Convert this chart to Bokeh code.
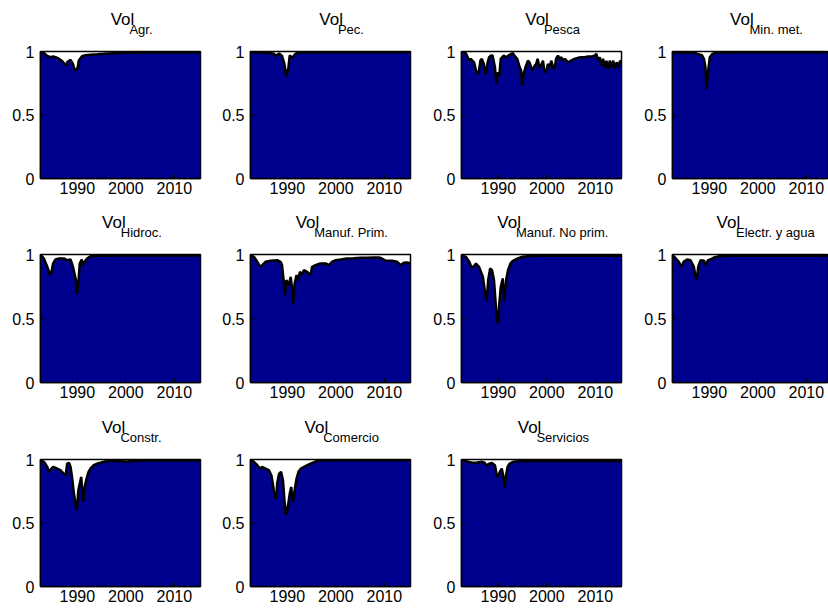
from bokeh.plotting import figure
from bokeh.layouts import column, row
from bokeh.models import FixedTicker, NumeralTickFormatter, Range1d
from bokeh.core.properties import value
from bokeh.embed import file_html
from bokeh.resources import INLINE

# ---- series (share of volume, 0..1), time in years ----
agr_t = [1982.4, 1983.2, 1983.8, 1984.4, 1985.0, 1985.5, 1986.1, 1986.5, 1987.0, 1987.6, 1987.9,
         1988.6, 1989.1, 1989.4, 1989.8, 1990.1, 1990.3, 1991.0, 1991.7, 1992.7, 1994.1, 1996.2,
         2000.2, 2007.5, 2015.4]
agr_v = [1.00, 0.985, 0.965, 0.955, 0.96, 0.955, 0.945, 0.935, 0.92, 0.89, 0.915,
         0.935, 0.90, 0.86, 0.85, 0.88, 0.93, 0.965, 0.97, 0.975, 0.978, 0.985,
         0.99, 0.992, 0.992]

pec_t = [1982.4, 1984.3, 1985.7, 1987.2, 1987.6, 1988.3, 1988.9, 1989.4, 1989.8, 1990.2, 1990.5,
         1991.0, 1991.5, 1992.0, 1996.6, 2015.4]
pec_v = [0.995, 0.99, 0.99, 0.985, 0.965, 0.985, 0.965, 0.90, 0.80, 0.87, 0.97,
         0.95, 0.975, 0.99, 0.995, 0.995]

pesca_t = [1982.4, 1983.3, 1984.0, 1984.3, 1985.0, 1985.4, 1985.9, 1986.3, 1986.6, 1987.0, 1987.4,
           1987.8, 1988.1, 1988.5, 1988.8, 1989.3, 1989.6, 1989.9, 1990.2, 1990.5, 1991.1, 1991.6,
           1992.1, 1992.6, 1993.0, 1993.3, 1993.9, 1994.3, 1994.7, 1994.9, 1995.2, 1995.7, 1996.1,
           1996.4, 1996.8, 1997.1, 1997.5, 1997.8, 1998.1, 1998.5, 1998.8, 1999.2, 1999.5, 1999.9,
           2000.2, 2000.6, 2000.9, 2001.3, 2001.6, 2001.9, 2002.3, 2002.6, 2003.0, 2003.3, 2003.7,
           2004.4, 2005.0, 2005.7, 2006.4, 2007.1, 2007.8, 2008.5, 2009.2, 2009.9, 2010.2, 2010.6,
           2010.9, 2011.3, 2011.6, 2012.0, 2012.3, 2012.6, 2013.0, 2013.3, 2013.7, 2014.0, 2014.4,
           2014.8, 2015.1, 2015.4]
pesca_v = [1.0, 0.987, 0.928, 0.942, 0.915, 0.849, 0.822, 0.928, 0.942, 0.902, 0.822,
           0.915, 0.955, 0.968, 0.968, 0.875, 0.743, 0.836, 0.809, 0.942, 0.968, 0.955,
           0.968, 0.981, 0.987, 0.968, 0.942, 0.889, 0.849, 0.729, 0.822, 0.889, 0.928,
           0.915, 0.875, 0.849, 0.889, 0.902, 0.942, 0.875, 0.889, 0.928, 0.849, 0.836,
           0.902, 0.875, 0.928, 0.875, 0.862, 0.942, 0.968, 0.942, 0.955, 0.928, 0.942,
           0.915, 0.928, 0.942, 0.950, 0.955, 0.955, 0.960, 0.960, 0.968, 0.981, 0.928,
           0.955, 0.889, 0.942, 0.875, 0.928, 0.862, 0.928, 0.875, 0.928, 0.862, 0.915,
           0.875, 0.928, 0.915]

minmet_t = [1982.4, 1985.0, 1987.1, 1987.5, 1988.5, 1988.9, 1989.2, 1989.4, 1989.7, 1990.1,
            1990.6, 1991.2, 1996.6, 2015.4]
minmet_v = [0.995, 0.99, 0.99, 0.98, 0.97, 0.94, 0.875, 0.70, 0.83, 0.955,
            0.98, 0.99, 0.995, 0.995]

hidroc_t = [1982.4, 1983.1, 1983.8, 1984.4, 1984.6, 1985.0, 1985.5, 1986.2, 1987.2, 1987.9, 1988.6,
            1989.1, 1989.7, 1989.9, 1990.2, 1990.5, 1990.9, 1991.2, 1991.5, 1992.0, 1992.7, 1994.1,
            2000.2, 2015.4]
hidroc_v = [1.0, 0.969, 0.904, 0.839, 0.852, 0.930, 0.961, 0.969, 0.969, 0.956, 0.961,
            0.904, 0.80, 0.691, 0.774, 0.930, 0.961, 0.917, 0.943, 0.969, 0.987, 0.990,
            0.992, 0.992]

mprim_t = [1982.4, 1983.1, 1983.8, 1984.4, 1984.8, 1985.5, 1986.5, 1987.9, 1988.6, 1988.9, 1989.3,
           1989.5, 1989.8, 1990.3, 1990.7, 1991.0, 1991.2, 1991.5, 1991.9, 1992.2, 1992.6, 1993.1,
           1993.4, 1994.1, 1994.8, 1995.1, 1995.8, 1996.8, 1997.9, 1998.6, 1999.2, 2000.0, 2001.0,
           2002.3, 2003.7, 2005.1, 2006.5, 2007.9, 2008.9, 2009.5, 2010.3, 2011.6, 2012.6, 2013.4,
           2014.0, 2014.7, 2015.4]
mprim_v = [0.995, 0.982, 0.943, 0.904, 0.917, 0.943, 0.951, 0.956, 0.943, 0.917, 0.774,
           0.683, 0.80, 0.761, 0.826, 0.722, 0.618, 0.774, 0.839, 0.80, 0.865, 0.839,
           0.878, 0.865, 0.839, 0.904, 0.917, 0.930, 0.930, 0.917, 0.943, 0.956, 0.961,
           0.969, 0.971, 0.974, 0.974, 0.977, 0.977, 0.969, 0.951, 0.951, 0.943, 0.917,
           0.935, 0.938, 0.930]

mnoprim_t = [1982.4, 1983.3, 1984.0, 1984.4, 1984.9, 1985.4, 1986.0, 1986.8, 1987.3, 1987.6, 1987.9,
             1988.3, 1988.7, 1989.1, 1989.6, 1989.9, 1990.2, 1990.5, 1990.9, 1991.2, 1991.6, 1992.0,
             1992.5, 1993.0, 1994.0, 1995.0, 1996.1, 1998.1, 2015.4]
mnoprim_v = [0.995, 0.982, 0.943, 0.904, 0.904, 0.930, 0.904, 0.826, 0.696, 0.631, 0.80,
             0.891, 0.878, 0.80, 0.54, 0.462, 0.618, 0.748, 0.813, 0.631, 0.80, 0.878,
             0.930, 0.951, 0.969, 0.982, 0.987, 0.990, 0.990]

elec_t = [1982.4, 1983.1, 1983.7, 1984.2, 1984.7, 1985.4, 1986.1, 1986.8, 1987.1, 1987.4, 1987.7,
          1988.2, 1988.9, 1989.3, 1989.7, 1990.2, 1991.0, 1992.0, 1993.6, 2015.4]
elec_v = [0.995, 0.969, 0.943, 0.904, 0.943, 0.961, 0.956, 0.904, 0.839, 0.80, 0.904,
          0.956, 0.951, 0.917, 0.956, 0.961, 0.977, 0.987, 0.990, 0.990]

constr_t = [1982.4, 1983.1, 1983.8, 1984.1, 1984.4, 1985.0, 1985.8, 1986.5, 1987.2, 1987.6, 1987.9,
            1988.3, 1988.6, 1988.9, 1989.3, 1989.7, 1989.9, 1990.2, 1990.5, 1990.8, 1991.0, 1991.2,
            1991.5, 1991.9, 1992.3, 1992.7, 1993.4, 1994.1, 1994.8, 1995.5, 1996.2, 1997.6, 1998.9,
            2000.2, 2001.6, 2005.1, 2015.4]
constr_v = [0.995, 0.982, 0.942, 0.903, 0.916, 0.942, 0.929, 0.916, 0.889, 0.876, 0.968,
            0.974, 0.942, 0.863, 0.732, 0.626, 0.60, 0.758, 0.811, 0.863, 0.758, 0.666,
            0.784, 0.85, 0.903, 0.929, 0.955, 0.968, 0.974, 0.982, 0.989, 0.989, 0.987,
            0.984, 0.989, 0.992, 0.992]

comer_t = [1982.4, 1983.1, 1983.8, 1984.4, 1984.8, 1985.5, 1986.2, 1986.7, 1987.0, 1987.4, 1987.7,
           1987.9, 1988.3, 1988.7, 1989.1, 1989.4, 1989.7, 1989.9, 1990.2, 1990.5, 1990.8, 1991.0,
           1991.2, 1991.5, 1991.9, 1992.3, 1992.8, 1993.7, 1994.8, 1995.8, 1996.8, 1998.9, 2015.4]
comer_v = [1.0, 0.982, 0.955, 0.929, 0.942, 0.929, 0.916, 0.876, 0.811, 0.705, 0.692,
           0.811, 0.889, 0.903, 0.837, 0.679, 0.561, 0.587, 0.653, 0.732, 0.784, 0.705,
           0.666, 0.758, 0.85, 0.903, 0.929, 0.947, 0.968, 0.984, 0.992, 0.995, 0.995]

serv_t = [1982.4, 1983.8, 1984.4, 1985.5, 1986.5, 1987.2, 1987.6, 1987.9, 1988.6, 1989.3, 1989.7,
          1989.9, 1990.3, 1990.7, 1991.0, 1991.3, 1991.6, 1991.9, 1992.3, 1993.1, 1994.1, 1996.2,
          2015.4]
serv_v = [0.995, 0.982, 0.976, 0.974, 0.982, 0.974, 0.947, 0.963, 0.974, 0.955, 0.868,
          0.863, 0.903, 0.929, 0.876, 0.779, 0.876, 0.942, 0.968, 0.982, 0.987, 0.989,
          0.989]

subscripts = ["Agr.", "Pec.", "Pesca", "Min. met.", "Hidroc.", "Manuf. Prim.",
              "Manuf. No prim.", "Electr. y agua", "Constr.", "Comercio", "Servicios"]
series = [(agr_t, agr_v), (pec_t, pec_v), (pesca_t, pesca_v), (minmet_t, minmet_v),
          (hidroc_t, hidroc_v), (mprim_t, mprim_v), (mnoprim_t, mnoprim_v), (elec_t, elec_v),
          (constr_t, constr_v), (comer_t, comer_v), (serv_t, serv_v)]
x_ticks = [1990, 2000, 2010]
y_ticks = [0, 0.5, 1]

X0, X1 = 1982.4, 2015.4
FILL = "#00008F"
FONT = "Liberation Sans"
TICK_PX, VOL_PX, SUB_PX = 16, 17, 13

# Helvetica advance widths (per 1000 em) used to place the titles
_W = {"V": 667, "o": 556, "l": 222, "A": 667, "g": 556, "r": 333, ".": 278, "P": 667,
      "e": 556, "c": 500, "s": 500, "a": 556, "M": 833, "i": 222, "n": 556, " ": 278,
      "m": 833, "t": 278, "H": 722, "d": 556, "u": 556, "f": 278, "N": 722, "p": 556,
      "E": 667, "y": 500, "C": 722, "v": 500}


def text_width(s, size):
    return sum(_W.get(ch, 556) for ch in s) * size / 1000.0


LEFT = 40          # space for the y tick labels
FRAME_W = 160      # nominal axes width
HEAD_H = 42        # title strip above each axes
TOP_PAD = 9        # room for the "1" tick label above the frame
col_frame = [160, 160, 160, 155]     # the last column is cut at the window edge
col_right = [10, 11, 11, 1]
row_frame = [127, 128, 127]
row_bottom = [25, 26, 22]


def header(idx, fig_w):
    h = figure(width=fig_w, height=HEAD_H, min_border=0,
               x_range=Range1d(0, fig_w), y_range=Range1d(0, HEAD_H),
               x_axis_type=None, y_axis_type=None,
               output_backend="svg", toolbar_location=None, tools="")
    h.outline_line_color = None
    h.xgrid.visible = False
    h.ygrid.visible = False
    sub = subscripts[idx]
    # the title string is centred as if the subscript were set at full size
    total = text_width("Vol", VOL_PX) + text_width(sub, VOL_PX)
    x_start = LEFT + FRAME_W / 2 - total / 2
    h.text(x=[x_start], y=[HEAD_H + TOP_PAD - 28], text=["Vol"],
           text_font=value(FONT), text_font_size=f"{VOL_PX}px", text_color="black",
           text_align="left", text_baseline="alphabetic")
    h.text(x=[x_start + text_width("Vol", VOL_PX)], y=[HEAD_H + TOP_PAD - 38], text=[sub],
           text_font=value(FONT), text_font_size=f"{SUB_PX}px", text_color="black",
           text_align="left", text_baseline="alphabetic")
    return h


def panel(idx):
    r, c = divmod(idx, 4)
    t, v = series[idx]
    fw = col_frame[c]
    x_end = X0 + (X1 - X0) * fw / FRAME_W
    p = figure(frame_width=fw, frame_height=row_frame[r],
               min_border_left=LEFT, min_border_right=col_right[c],
               min_border_top=TOP_PAD, min_border_bottom=row_bottom[r],
               x_range=Range1d(X0, x_end), y_range=Range1d(0, 1),
               output_backend="svg", toolbar_location=None, tools="")
    p.varea(x=t, y1=[0] * len(t), y2=v, fill_color=FILL, fill_alpha=1.0)
    p.line(x=t, y=v, line_color="black", line_width=2.5)

    p.xgrid.visible = False
    p.ygrid.visible = False
    p.outline_line_color = "black"
    p.outline_line_width = 1.5
    p.background_fill_color = "white"
    p.border_fill_color = "white"

    p.xaxis.ticker = FixedTicker(ticks=x_ticks)
    p.yaxis.ticker = FixedTicker(ticks=y_ticks)
    p.yaxis.formatter = NumeralTickFormatter(format="0.[0]")
    for ax in (p.xaxis[0], p.yaxis[0]):
        ax.axis_line_color = "black"
        ax.axis_line_width = 1.5
        ax.major_tick_line_color = "black"
        ax.major_tick_in = 4
        ax.major_tick_out = 0
        ax.minor_tick_line_color = None
        ax.major_label_text_font = FONT
        ax.major_label_text_font_size = f"{TICK_PX}px"
        ax.major_label_text_color = "black"
    p.xaxis[0].major_label_standoff = 3
    p.yaxis[0].major_label_standoff = 6

    fig_w = LEFT + fw + col_right[c]
    return column(header(idx, fig_w), p)


cells = [panel(i) for i in range(len(series))]
layout = column(row(*cells[0:4]), row(*cells[4:8]), row(*cells[8:11]))

open("out.html", "w").write(file_html(layout, INLINE))
